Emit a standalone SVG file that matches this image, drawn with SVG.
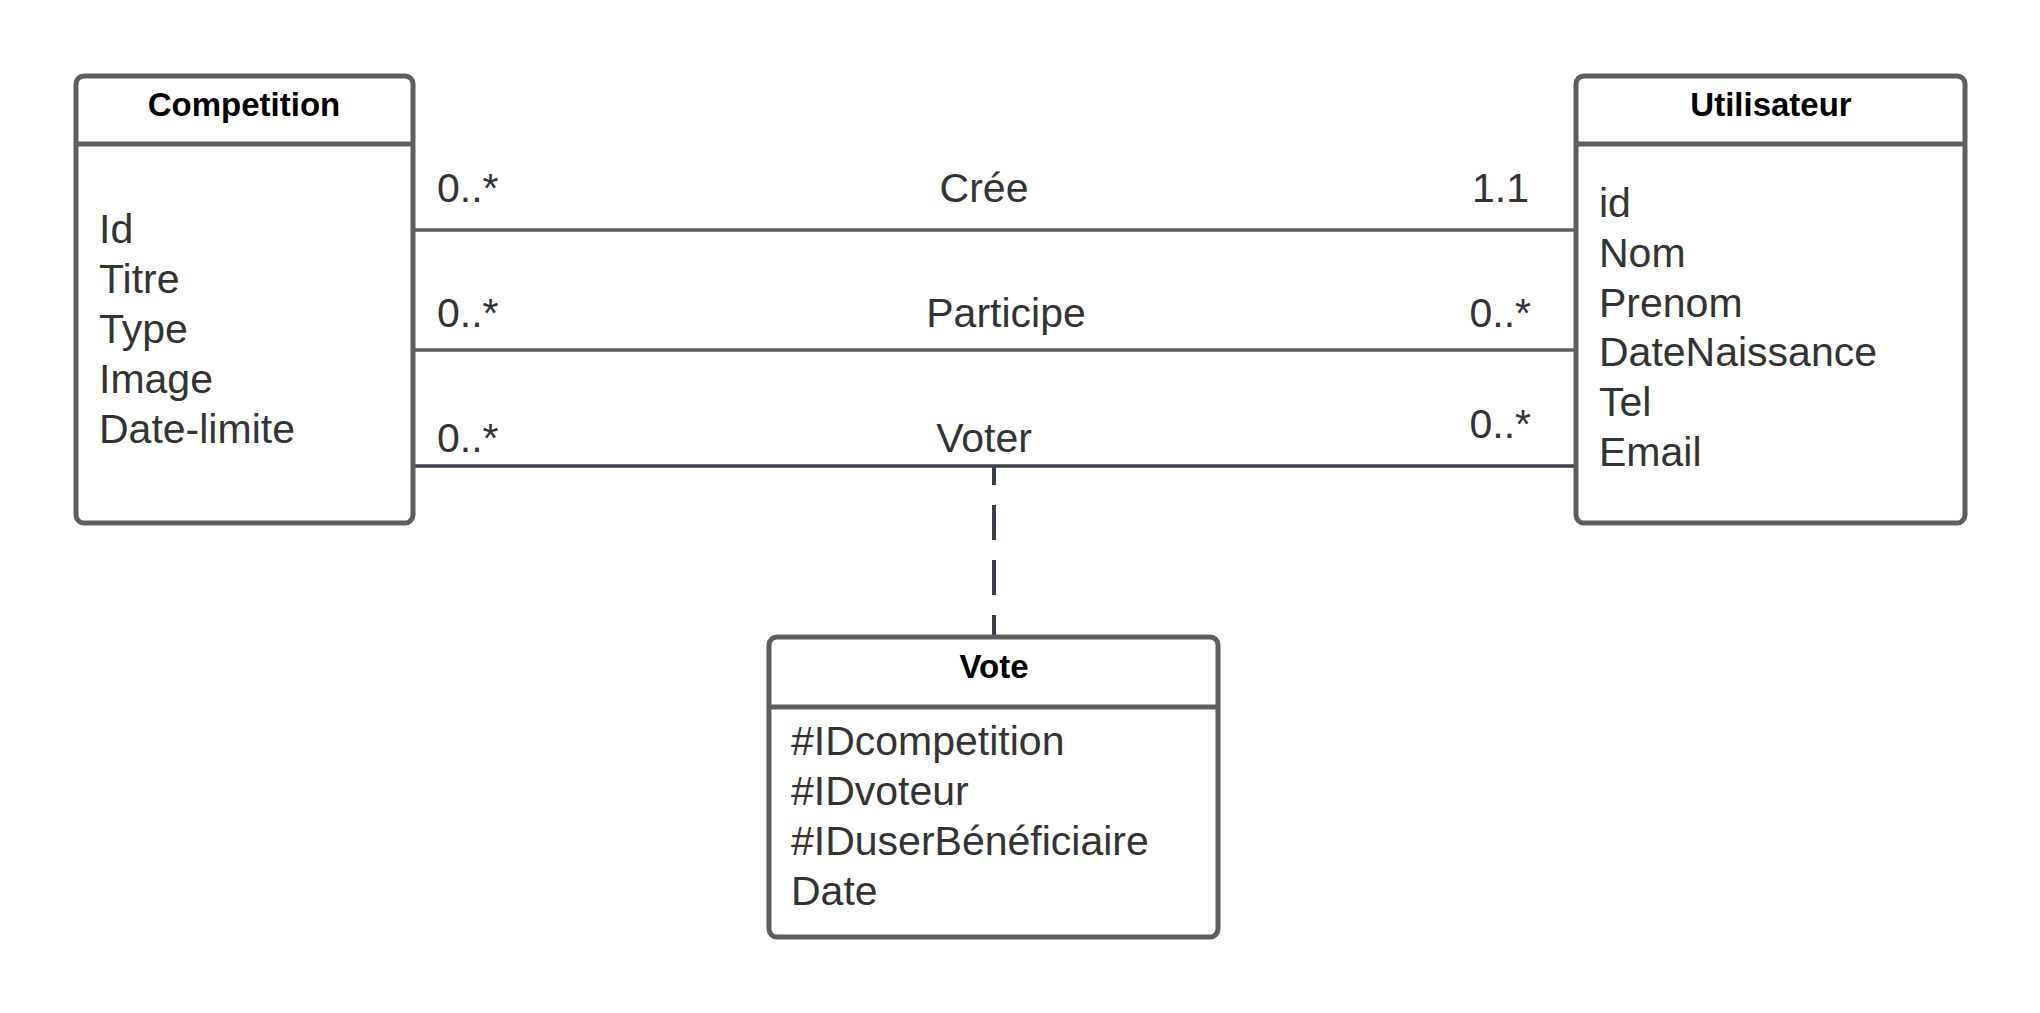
<svg xmlns="http://www.w3.org/2000/svg" width="2040" height="1013" viewBox="0 0 2040 1013">
<style>
.box{fill:#ffffff;stroke:#5e5e5e;stroke-width:5}
.div{stroke:#5e5e5e;stroke-width:5}
.title{font-family:"Liberation Sans",Arial,sans-serif;font-weight:bold;font-size:33px;fill:#000000;text-anchor:middle}
.attr{font-family:"Liberation Sans",Arial,sans-serif;font-size:41px;fill:#333333}
.lbl{font-family:"Liberation Sans",Arial,sans-serif;font-size:41px;fill:#333333}
.assoc{stroke:#5e5e5e;stroke-width:3.5;fill:none}
.assoc2{stroke:#3a414a;stroke-width:3.5;fill:none}
.dash{stroke:#3a414a;stroke-width:4;fill:none;stroke-dasharray:35 20;stroke-dashoffset:17}
</style>
<rect width="2040" height="1013" fill="#ffffff"/>
<g id="connectors">
<line class="assoc" x1="414" y1="230" x2="1576" y2="230"/>
<line class="assoc" x1="414" y1="350" x2="1576" y2="350"/>
<line class="assoc2" x1="414" y1="466" x2="1576" y2="466"/>
<line class="dash" x1="994" y1="467" x2="994" y2="637"/>
<text class="lbl" x="437" y="202">0..*</text>
<text class="lbl" x="984" y="202" text-anchor="middle">Crée</text>
<text class="lbl" x="1529" y="202" text-anchor="end">1.1</text>
<text class="lbl" x="437" y="327">0..*</text>
<text class="lbl" x="1006" y="327" text-anchor="middle">Participe</text>
<text class="lbl" x="1531" y="327" text-anchor="end">0..*</text>
<text class="lbl" x="437" y="452">0..*</text>
<text class="lbl" x="984" y="452" text-anchor="middle">Voter</text>
<text class="lbl" x="1531" y="438" text-anchor="end">0..*</text>
</g>
<g id="competition">
<rect class="box" x="76" y="76" width="337" height="447" rx="8"/>
<line class="div" x1="76" y1="144" x2="413" y2="144"/>
<text class="title" x="244" y="116">Competition</text>
<text class="attr" x="99" y="243">Id</text>
<text class="attr" x="99" y="293">Titre</text>
<text class="attr" x="99" y="343">Type</text>
<text class="attr" x="99" y="393">Image</text>
<text class="attr" x="99" y="443">Date-limite</text>
</g>
<g id="utilisateur">
<rect class="box" x="1576" y="76" width="389" height="447" rx="8"/>
<line class="div" x1="1576" y1="144" x2="1965" y2="144"/>
<text class="title" x="1771" y="116">Utilisateur</text>
<text class="attr" x="1599" y="217">id</text>
<text class="attr" x="1599" y="267">Nom</text>
<text class="attr" x="1599" y="317">Prenom</text>
<text class="attr" x="1599" y="366">DateNaissance</text>
<text class="attr" x="1599" y="416">Tel</text>
<text class="attr" x="1599" y="466">Email</text>
</g>
<g id="vote">
<rect class="box" x="769" y="637" width="449" height="300" rx="8"/>
<line class="div" x1="769" y1="707" x2="1218" y2="707"/>
<text class="title" x="994" y="678">Vote</text>
<text class="attr" x="791" y="755">#IDcompetition</text>
<text class="attr" x="791" y="805">#IDvoteur</text>
<text class="attr" x="791" y="855">#IDuserBénéficiaire</text>
<text class="attr" x="791" y="905">Date</text>
</g>
</svg>
